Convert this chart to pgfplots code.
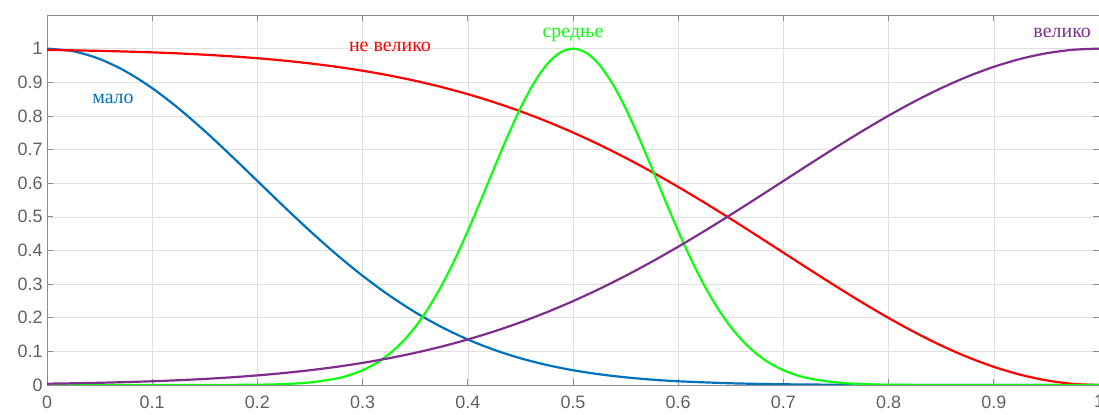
\documentclass[border=0pt]{standalone}
\usepackage{fontspec}
\setmainfont{Liberation Sans}
\newfontfamily\labfont{Liberation Serif}
\usepackage{pgfplots}
\pgfplotsset{compat=1.18}
\definecolor{mblue}{rgb}{0,0.447,0.741}
\definecolor{mred}{rgb}{1,0,0}
\definecolor{mgreen}{rgb}{0.05,1,0.05}
\definecolor{mpurple}{rgb}{0.494,0.184,0.556}
\begin{document}
\begin{tikzpicture}
\path[use as bounding box] (-47bp,-30bp) rectangle (1052bp,385bp);
\begin{axis}[
  at={(0,0)}, anchor=south west,
  width=1052bp, height=370bp, scale only axis,
  xmin=0, xmax=1, ymin=0, ymax=1.1,
  xtick={0,0.1,0.2,0.3,0.4,0.5,0.6,0.7,0.8,0.9,1},
  ytick={0,0.1,0.2,0.3,0.4,0.5,0.6,0.7,0.8,0.9,1},
  xticklabels={0,0.1,0.2,0.3,0.4,0.5,0.6,0.7,0.8,0.9,1},
  yticklabels={0,0.1,0.2,0.3,0.4,0.5,0.6,0.7,0.8,0.9,1},
  xtick pos=both, ytick pos=both, tick align=inside,
  major tick length=6bp,
  grid=major, grid style={black!12, line width=0.6bp},
  axis line style={black!45, line width=0.8bp},
  tick style={black!45, line width=0.8bp},
  ticklabel style={font=\fontsize{18}{18}\selectfont, text=black!62},
  xticklabel style={yshift=-7bp},
  yticklabel style={xshift=-1bp},
  every axis plot/.append style={line width=2.2bp, smooth, tension=0.5},
  clip=true,
]
\addplot[mblue] coordinates {
(0,1) (0.025,0.99223) (0.05,0.96923) (0.075,0.93211) (0.1,0.88250) (0.125,0.82259)
(0.15,0.75484) (0.175,0.68193) (0.2,0.60653) (0.225,0.53109) (0.25,0.45783)
(0.275,0.38857) (0.3,0.32465) (0.325,0.26706) (0.35,0.21627) (0.375,0.17242)
(0.4,0.13534) (0.425,0.10459) (0.45,0.07956) (0.475,0.05958) (0.5,0.04394)
(0.525,0.03195) (0.55,0.02279) (0.575,0.01598) (0.6,0.01111) (0.65,0.00509) (0.7,0.00219)
(0.75,0.00088) (0.8,0.00034) (0.9,0.00004) (1,0)
};
\addplot[mred] coordinates {
(0,0.99614) (0.025,0.99491) (0.05,0.99336) (0.075,0.99138) (0.1,0.98889) (0.125,0.98579)
(0.15,0.98194) (0.175,0.97721) (0.2,0.97145) (0.225,0.96445) (0.25,0.95606)
(0.275,0.94607) (0.3,0.93426) (0.325,0.92044) (0.35,0.90434) (0.375,0.88583)
(0.4,0.86466) (0.425,0.84068) (0.45,0.81374) (0.475,0.78373) (0.5,0.75065)
(0.525,0.71450) (0.55,0.67535) (0.575,0.63340) (0.6,0.58889) (0.625,0.54217)
(0.65,0.49368) (0.675,0.44390) (0.7,0.39347) (0.725,0.34302) (0.75,0.29333)
(0.775,0.24516) (0.8,0.19926) (0.825,0.15642) (0.85,0.11750) (0.875,0.08314)
(0.9,0.05408) (0.925,0.03077) (0.95,0.01379) (0.975,0.00347) (1,0)
};
\addplot[mgreen] coordinates {
(0,0) (0.1,0.00001) (0.15,0.00007) (0.2,0.00088) (0.225,0.00272) (0.25,0.00758)
(0.275,0.01916) (0.2875,0.02937) (0.3,0.04394) (0.3125,0.06415) (0.325,0.09139)
(0.3375,0.12707) (0.35,0.17242) (0.3625,0.22830) (0.375,0.29502) (0.3875,0.37203)
(0.4,0.45783) (0.4125,0.54980) (0.425,0.64440) (0.4375,0.73700) (0.45,0.82258)
(0.4625,0.89596) (0.475,0.95234) (0.4875,0.98787) (0.5,1)
(0.5125,0.98787) (0.525,0.95234) (0.5375,0.89596) (0.55,0.82258) (0.5625,0.73700)
(0.575,0.64440) (0.5875,0.54980) (0.6,0.45783) (0.6125,0.37203) (0.625,0.29502)
(0.6375,0.22830) (0.65,0.17242) (0.6625,0.12707) (0.675,0.09139) (0.6875,0.06415)
(0.7,0.04394) (0.7125,0.02937) (0.725,0.01916) (0.75,0.00758) (0.775,0.00272)
(0.8,0.00088) (0.85,0.00007) (0.9,0.00001) (1,0)
};
\addplot[mpurple] coordinates {
(0,0.00386) (0.025,0.00509) (0.05,0.00664) (0.075,0.00862) (0.1,0.01111) (0.125,0.01421)
(0.15,0.01806) (0.175,0.02279) (0.2,0.02855) (0.225,0.03555) (0.25,0.04394)
(0.275,0.05393) (0.3,0.06574) (0.325,0.07956) (0.35,0.09566) (0.375,0.11417)
(0.4,0.13534) (0.425,0.15932) (0.45,0.18626) (0.475,0.21627) (0.5,0.24935)
(0.525,0.28550) (0.55,0.32465) (0.575,0.36660) (0.6,0.41111) (0.625,0.45783)
(0.65,0.50632) (0.675,0.55610) (0.7,0.60653) (0.725,0.65698) (0.75,0.70667)
(0.775,0.75484) (0.8,0.80074) (0.825,0.84358) (0.85,0.88250) (0.875,0.91686)
(0.9,0.94592) (0.925,0.96923) (0.95,0.98621) (0.975,0.99653) (1,1)
};
\node[text=mblue, font=\labfont\fontsize{20}{20}\selectfont] at (axis cs:0.0627,0.85) {мало};
\node[text=mred, font=\labfont\fontsize{20}{20}\selectfont] at (axis cs:0.326,1.005) {не велико};
\node[text=mgreen, font=\labfont\fontsize{20}{20}\selectfont] at (axis cs:0.5,1.04) {средње};
\node[text=mpurple, font=\labfont\fontsize{20}{20}\selectfont] at (axis cs:0.965,1.048) {велико};
\end{axis}
\end{tikzpicture}
\end{document}
